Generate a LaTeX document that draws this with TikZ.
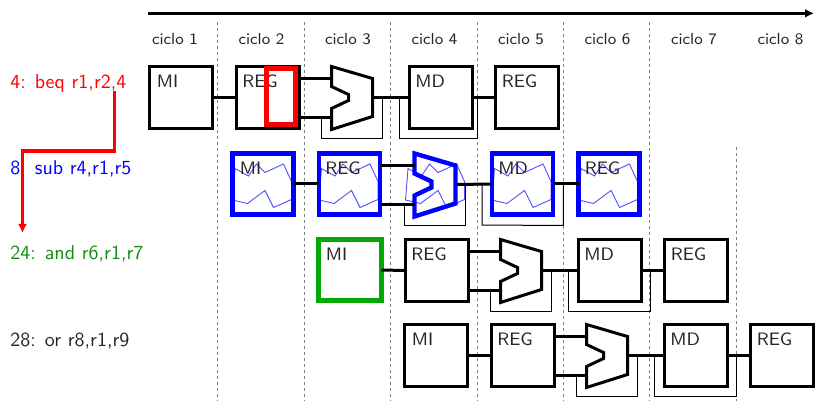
\documentclass[tikz,border=0pt]{standalone}
\usetikzlibrary{arrows.meta,calc}
\definecolor{boxgreen}{RGB}{0,170,0}
\definecolor{textgreen}{RGB}{20,140,20}
\definecolor{scribblue}{RGB}{80,80,255}
\tikzset{
  stagebox/.style={draw, line width=1.5pt, minimum width=31.5pt, minimum height=31pt, inner sep=0pt, outer sep=0pt, anchor=north west},
  bluebox/.style={draw=blue, line width=2.4pt, minimum width=30.5pt, minimum height=30.5pt},
  greenbox/.style={draw=boxgreen, line width=2.5pt, minimum height=30.5pt},
  alu/.style={draw, line width=1.5pt, line join=miter},
  bluealu/.style={draw=blue, line width=2.2pt},
  conn/.style={line width=1.5pt},
  wire/.style={line width=0.5pt},
  lbl/.style={font=\sffamily\small, anchor=base west, inner sep=0pt, text=black!85},
  instr/.style={font=\sffamily, anchor=base west, inner sep=0pt},
  ciclo/.style={font=\sffamily\footnotesize, anchor=base, inner sep=0pt, text=black!85},
  gridline/.style={gray, line width=0.5pt, dash pattern=on 1.5pt off 1.5pt},
  scrib/.style={draw=scribblue, line width=0.45pt, line join=miter},
}
% #1 prefix, #2 x0, #3 y0, #4 box style, #5 MI style, #6 ALU style, #7 bypass right x
\newcommand{\pipe}[7]{%
  \node[stagebox,#4,#5] (#1mi) at (#2,#3) {};
  \node[stagebox,#4] (#1reg) at ({#2+86.5},#3) {};
  \node[stagebox,#4] (#1md) at ({#2+259.5},#3) {};
  \node[stagebox,#4] (#1wb) at ({#2+346},#3) {};
  \coordinate (#1alu) at ({#2+173},#3);
  \draw[alu,#6] ([shift={(9,0)}]#1alu) -- ++(41,12) -- ++(0,38) -- ++(-41,13) -- ++(0,-21) -- ++(17,-8) -- ++(0,-6) -- ++(-17,-8) -- cycle;
  \coordinate (#1aluA) at ([shift={(9,12)}]#1alu);
  \coordinate (#1aluB) at ([shift={(9,51)}]#1alu);
  \coordinate (#1aluO) at ([shift={(50,31)}]#1alu);
  \draw[conn] (#1mi) -- (#1reg);
  \draw[conn] (#1reg.east |- #1aluA) -- (#1aluA);
  \draw[conn] (#1reg.east |- #1aluB) -- (#1aluB);
  \draw[conn] (#1aluO) -- (#1md.west);
  \draw[conn] (#1md) -- (#1wb);
  \draw[wire] ([shift={(-1,51)}]#1alu) -- ([shift={(-1,72)}]#1alu) -- ([shift={(59.5,72)}]#1alu) -- ([shift={(59.5,31)}]#1alu);
  \draw[wire] ([shift={(-10,0)}]#1md.west) -- ++(0,41) -- (#7,{#3+72}) -- (#7,{#3+31});
  \node[lbl] at ([shift={(7,21)}]#1mi.north west) {MI};
  \node[lbl] at ([shift={(6,21)}]#1reg.north west) {REG};
  \node[lbl] at ([shift={(6,21)}]#1md.north west) {MD};
  \node[lbl] at ([shift={(6,21)}]#1wb.north west) {REG};
}
\newcommand{\scribble}{%
  \draw[scrib] (0,46.5) -- (2.5,15) -- (16,22.5) -- (24,10.5) -- (32.5,19) -- (51,10.5) -- (59,28) -- (59,46) -- (41,54) -- (32.5,37) -- (15,50) -- cycle;
}
\begin{document}
\begin{tikzpicture}[x=0.5pt, y=-0.5pt]
\useasboundingbox (0,0) rectangle (815,401);
% grid
\foreach \gx in {217,304,390.5,477,563.3,649.5}
  \draw[gridline] (\gx,22) -- (\gx,401);
\draw[gridline] (736,147) -- (736,401);
% time axis
\coordinate (t0) at (148,13.3);
\coordinate (t1) at (814,13.3);
\draw[line width=1.6pt, -{Latex[length=4.5pt,width=4.5pt]}] (t0) -- (t1);
\foreach \i in {1,...,8}
  \node[ciclo] (c\i) at ({175+86.5*(\i-1)},44.3) {ciclo \i};
% instruction labels
\node[instr, text=red] (ia) at (10,89) {4: beq r1,r2,4};
\node[instr, text=blue] (ib) at (10,174.3) {8: sub r4,r1,r5};
\node[instr, text=textgreen] (ic) at (10,259.3) {24: and r6,r1,r7};
\node[instr, text=black!85] (id) at (10,346) {28: or r8,r1,r9};
% scribbles (row 2)
\foreach \dx in {0,86.5,173,259.5,346}{
  \begin{scope}[shift={({232.5+\dx},153.5)}]
    \scribble
  \end{scope}
}
% pipelines
\pipe{a}{149.5}{66.5}{}{}{}{477}
\pipe{b}{232.5}{153.5}{bluebox}{}{bluealu}{563.3}
\pipe{c}{318.5}{239.5}{}{greenbox}{}{650}
\pipe{d}{404.5}{324.5}{}{}{}{736.5}
% hazard rectangle
\node[draw=red, line width=2.5pt, minimum width=14.9pt, minimum height=27.75pt, anchor=north west, inner sep=0pt, outer sep=0pt] (hz) at ([shift={(30,2.5)}]areg.north west) {};
% branch arrow
\coordinate (brs) at (114.5,91);
\coordinate (brm) at (22.5,151);
\coordinate (bre) at (22.5,233);
\draw[red, line width=1.7pt, -{Latex[length=4.5pt,width=4.5pt]}] (brs) |- (brm) -- (bre);
\end{tikzpicture}
\end{document}
